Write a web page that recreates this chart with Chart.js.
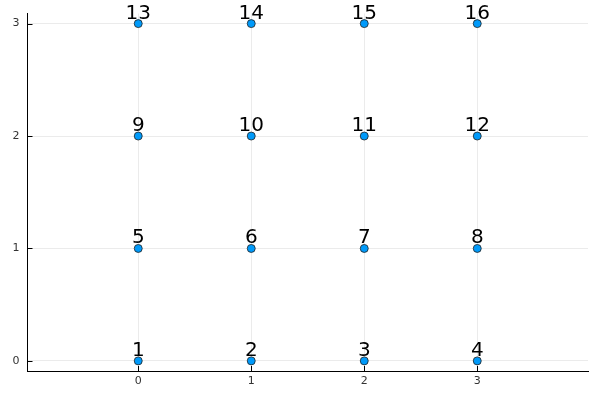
<!DOCTYPE html>
<html>
<head>
<meta charset="utf-8">
<script src="https://cdn.jsdelivr.net/npm/chart.js@4"></script>
<style>
html,body{margin:0;padding:0;background:#fff;}
#wrap{width:600px;height:400px;position:relative;}
</style>
</head>
<body>
<div id="wrap"><canvas id="c" width="600" height="400"></canvas></div>
<script>
const xValues = [0, 1, 2, 3, 0, 1, 2, 3, 0, 1, 2, 3, 0, 1, 2, 3];
const yValues = [0, 0, 0, 0, 1, 1, 1, 1, 2, 2, 2, 2, 3, 3, 3, 3];
const pointLabels = ["1","2","3","4","5","6","7","8","9","10","11","12","13","14","15","16"];
const xTicks = [0, 1, 2, 3];
const yTicks = [0, 1, 2, 3];

const FONT = "'DejaVu Sans', sans-serif";

const labelPlugin = {
  id: 'labelPlugin',
  afterDatasetsDraw(chart) {
    const ctx = chart.ctx;
    const xs = chart.scales.x, ys = chart.scales.y;
    const area = chart.chartArea;
    ctx.save();
    ctx.strokeStyle = '#000';
    ctx.lineWidth = 1;
    xTicks.forEach(v => {
      const px = Math.round(xs.getPixelForValue(v)) + 0.5;
      ctx.beginPath();
      ctx.moveTo(px, area.bottom);
      ctx.lineTo(px, area.bottom - 5);
      ctx.stroke();
    });
    yTicks.forEach(v => {
      const py = Math.round(ys.getPixelForValue(v)) + 0.5;
      ctx.beginPath();
      ctx.moveTo(area.left, py);
      ctx.lineTo(area.left + 5, py);
      ctx.stroke();
    });
    ctx.restore();
  },
  afterDraw(chart) {
    const ctx = chart.ctx;
    const xs = chart.scales.x, ys = chart.scales.y;
    ctx.save();
    ctx.font = '20px ' + FONT;
    ctx.fillStyle = '#000';
    ctx.textAlign = 'center';
    ctx.textBaseline = 'alphabetic';
    pointLabels.forEach((t, i) => {
      const px = xs.getPixelForValue(xValues[i]);
      const py = ys.getPixelForValue(yValues[i]);
      ctx.fillText(t, px, py - 5);
    });
    ctx.restore();
  }
};

new Chart(document.getElementById('c'), {
  type: 'scatter',
  data: {
    datasets: [{
      data: xValues.map((x, i) => ({x: x, y: yValues[i]})),
      backgroundColor: '#009AFA',
      borderColor: '#222222',
      borderWidth: 0.8,
      pointRadius: 4,
      pointHoverRadius: 4
    }]
  },
  options: {
    responsive: false,
    animation: false,
    devicePixelRatio: 1,
    layout: { padding: { left: 0, right: 12, top: 12, bottom: 0 } },
    plugins: { legend: { display: false }, tooltip: { enabled: false } },
    scales: {
      x: {
        type: 'linear',
        min: -0.98,
        max: 3.98,
        afterBuildTicks: s => { s.ticks = xTicks.map(v => ({value: v})); },
        afterFit: s => { s.height = 29; },
        grid: { color: 'rgba(0,0,0,0.08)', drawTicks: false, lineWidth: 1 },
        border: { display: true, color: '#000', width: 1 },
        ticks: { font: { family: FONT, size: 11, lineHeight: 1 }, color: '#333', padding: 5, maxRotation: 0 }
      },
      y: {
        type: 'linear',
        min: -0.09,
        max: 3.09,
        afterBuildTicks: s => { s.ticks = yTicks.map(v => ({value: v})); },
        afterFit: s => { s.width = 27.5; },
        grid: { color: 'rgba(0,0,0,0.08)', drawTicks: false, lineWidth: 1 },
        border: { display: true, color: '#000', width: 1 },
        ticks: { font: { family: FONT, size: 11, lineHeight: 1 }, color: '#333', padding: 8 }
      }
    }
  },
  plugins: [labelPlugin]
});
</script>
</body>
</html>
